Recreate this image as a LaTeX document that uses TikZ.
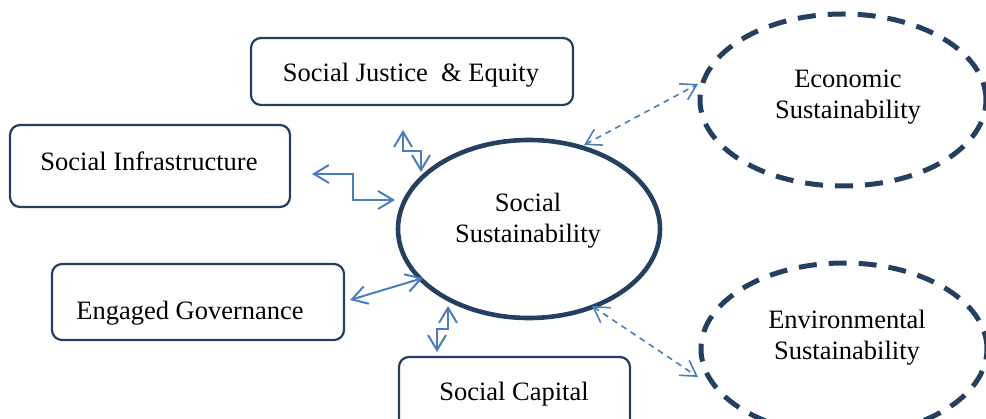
\documentclass[tikz,border=0pt]{standalone}
\usepackage{fontspec}
\setmainfont{Liberation Serif}
\usetikzlibrary{arrows.meta,shapes.geometric}
\definecolor{navy}{HTML}{243F60}
\definecolor{linkblue}{HTML}{4A7EBB}
\tikzset{
	box/.style={draw=navy, line width=2.2pt, rounded corners=10pt, inner sep=0pt},
	hub/.style={ellipse, draw=navy, line width=4.6pt, inner sep=0pt},
	pillar/.style={ellipse, draw=navy, line width=5pt, dash pattern=on 18pt off 12pt, inner sep=0pt},
	txt/.style={align=center, inner sep=0pt, font=\fontsize{26.5}{31}\selectfont},
	link/.style={draw=linkblue, line width=2pt, line join=miter, {Straight Barb[length=15pt,width=18pt]}-{Straight Barb[length=15pt,width=18pt]}},
	dlink/.style={link, line width=1.6pt, dash pattern=on 6pt off 5pt},
}
\begin{document}
\begin{tikzpicture}[x=1pt, y=-1pt]
	\useasboundingbox (0,0) rectangle (986,419);
	\clip (0,0) rectangle (986,419);
	% boxes
	\node[box, minimum width=322pt, minimum height=67pt] (justice) at (412,71.5) {};
	\node[box, minimum width=280pt, minimum height=82pt] (infra) at (150,166) {};
	\node[box, minimum width=292pt, minimum height=76pt] (gov) at (198,302) {};
	\node[box, minimum width=231pt, minimum height=76pt] (capital) at (514.5,395) {};
	\node[txt] (justicetxt) at (411,75) {Social Justice \ \& Equity};
	\node[txt] (infratxt) at (149,161) {Social Infrastructure};
	\node[txt] (govtxt) at (190,313) {Engaged Governance};
	\node[txt] (capitaltxt) at (514,394) {Social Capital};
	% ellipses
	\node[hub, minimum width=262pt, minimum height=178pt] (social) at (529,229) {};
	\node[txt] (socialtxt) at (528,221) {Social\\Sustainability};
	\node[pillar, minimum width=286pt, minimum height=172pt] (econ) at (843,100) {};
	\node[txt] (econtxt) at (848,97) {Economic\\Sustainability};
	\node[pillar, minimum width=286pt, minimum height=172pt] (env) at (844,349) {};
	\node[txt] (envtxt) at (847,338) {Environmental\\Sustainability};
	% connectors
	\coordinate (j1) at (403,130);
	\coordinate (j2) at (421,172);
	\draw[link] (j1) |- (421,151) -- (j2);
	\coordinate (i1) at (312,174);
	\coordinate (i2) at (395,200);
	\draw[link] (i1) -- (353,174) |- (i2);
	\coordinate (g1) at (350,300);
	\coordinate (g2) at (423,278);
	\draw[link] (g1) -- (g2);
	\coordinate (c1) at (448,306);
	\coordinate (c2) at (437,352);
	\draw[link] (c1) |- (437,329) -- (c2);
	\coordinate (e1) at (584,145);
	\coordinate (e2) at (698,84);
	\draw[dlink] (e1) -- (e2);
	\coordinate (v1) at (592,306);
	\coordinate (v2) at (698,377);
	\draw[dlink] (v1) -- (v2);
\end{tikzpicture}
\end{document}
